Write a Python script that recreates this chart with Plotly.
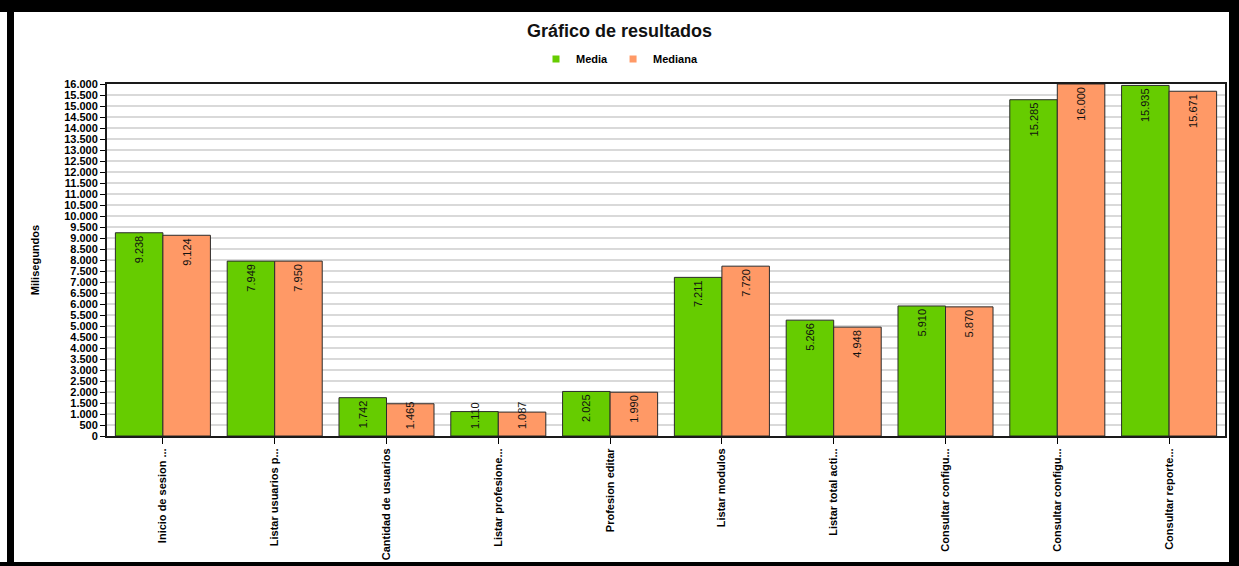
import plotly.graph_objects as go

# Operaciones medidas (etiquetas tal como aparecen en el eje)
operaciones = [
    "Inicio de sesion ...",
    "Listar usuarios p...",
    "Cantidad de usuarios",
    "Listar profesione...",
    "Profesion editar",
    "Listar modulos",
    "Listar total acti...",
    "Consultar configu...",
    "Consultar configu...",
    "Consultar reporte...",
]
media = [9238, 7949, 1742, 1110, 2025, 7211, 5266, 5910, 15285, 15935]
mediana = [9124, 7950, 1465, 1087, 1990, 7720, 4948, 5870, 16000, 15671]

posiciones = list(range(len(operaciones)))

VERDE = "#66cc00"
NARANJA = "#ff9966"
FUENTE = "Arial, Liberation Sans, sans-serif"

W, H = 1239, 566
L, R, T, B = 107, 14, 84, 130
PW, PH = W - L - R, H - T - B
Y_MAX = 16000
BARGAP = 0.15
ANCHO_BARRA = (1 - BARGAP) / 2
ETIQUETA_PX = 34  # largo aproximado de una etiqueta girada


def px_x(px):
    return (px - L) / PW


def px_y(py):
    return (H - B - py) / PH


def fmt(v):
    return f"{v:,d}".replace(",", ".")


def cabe(v):
    return v / Y_MAX * PH >= ETIQUETA_PX


fig = go.Figure()
annotations = []

series = [("Media", media, VERDE, -1), ("Mediana", mediana, NARANJA, 1)]
for nombre, valores, color, lado in series:
    fig.add_trace(go.Bar(
        x=posiciones,
        y=valores,
        name=nombre,
        marker=dict(color=color, line=dict(color="#2b2b2b", width=1)),
        text=[fmt(v) if cabe(v) else "" for v in valores],
        texttemplate="%{text}",
        textposition="inside",
        insidetextanchor="end",
        textangle=-90,
        textfont=dict(family=FUENTE, size=11, color="#111111"),
        constraintext="none",
        showlegend=False,
        hoverinfo="x+y",
    ))
    # etiquetas de barras cortas: apoyadas cerca de la base
    for p, v in zip(posiciones, valores):
        if not cabe(v):
            annotations.append(dict(
                x=p + lado * ANCHO_BARRA / 2, y=0, xref="x", yref="y",
                text=fmt(v), textangle=-90, showarrow=False,
                xanchor="center", yanchor="bottom", yshift=5,
                font=dict(family=FUENTE, size=11, color="#111111"),
            ))
    # entrada de leyenda con marcador cuadrado pequeño
    fig.add_trace(go.Scatter(
        x=[None], y=[None], mode="markers", name=nombre,
        marker=dict(symbol="square", size=7, color=color),
        showlegend=True,
    ))

# marco negro exterior
marco = [
    (7, 0, 14, H),      # izquierda
    (0, 0, W, 12),      # arriba
    (1229, 0, W, H),    # derecha
    (0, 562, W, H),     # abajo
]
shapes = []
for x0, y0, x1, y1 in marco:
    shapes.append(dict(
        type="rect", xref="paper", yref="paper",
        x0=px_x(x0), x1=px_x(x1), y0=px_y(y1), y1=px_y(y0),
        fillcolor="black", line=dict(width=0), layer="above",
    ))

fig.update_layout(
    width=W, height=H,
    margin=dict(l=L, r=R, t=T, b=B, pad=0, autoexpand=False),
    paper_bgcolor="white",
    plot_bgcolor="white",
    separators=",.",
    barmode="group",
    bargap=BARGAP,
    bargroupgap=0,
    uniformtext=dict(minsize=11, mode="show"),
    font=dict(family=FUENTE, color="black"),
    title=dict(
        text="<b>Gráfico de resultados</b>",
        x=0.5, xref="container", xanchor="center",
        y=1 - 31 / H, yref="container", yanchor="middle",
        font=dict(family=FUENTE, size=18, color="#111111"),
    ),
    legend=dict(
        orientation="h",
        x=0.5, xref="container", xanchor="center",
        y=1 - 59 / H, yref="container", yanchor="middle",
        font=dict(family=FUENTE, size=11, color="black", weight="bold"),
        itemwidth=30,
        tracegroupgap=0,
        bgcolor="rgba(0,0,0,0)",
    ),
    xaxis=dict(
        tickmode="array",
        tickvals=posiciones,
        ticktext=operaciones,
        tickangle=-90,
        range=[-0.5, len(operaciones) - 0.5],
        ticks="outside", ticklen=6, tickcolor="black", tickwidth=1,
        tickfont=dict(family=FUENTE, size=11, color="black", weight="bold"),
        showline=True, linecolor="#1a1a1a", linewidth=2, mirror=True,
        showgrid=False, zeroline=False, automargin=False,
    ),
    yaxis=dict(
        range=[0, Y_MAX],
        dtick=500,
        tickformat=",d",
        ticks="outside", ticklen=5, tickcolor="black", tickwidth=1,
        tickfont=dict(family=FUENTE, size=11, color="black", weight="bold"),
        showline=True, linecolor="#1a1a1a", linewidth=2, mirror=True,
        showgrid=True, gridcolor="#d9d9d9", gridwidth=2,
        zeroline=False, automargin=False,
        title=dict(
            text="Milisegundos", standoff=22,
            font=dict(family=FUENTE, size=11, color="black", weight="bold"),
        ),
    ),
    annotations=annotations,
    shapes=shapes,
)

fig.write_html("out.html")
